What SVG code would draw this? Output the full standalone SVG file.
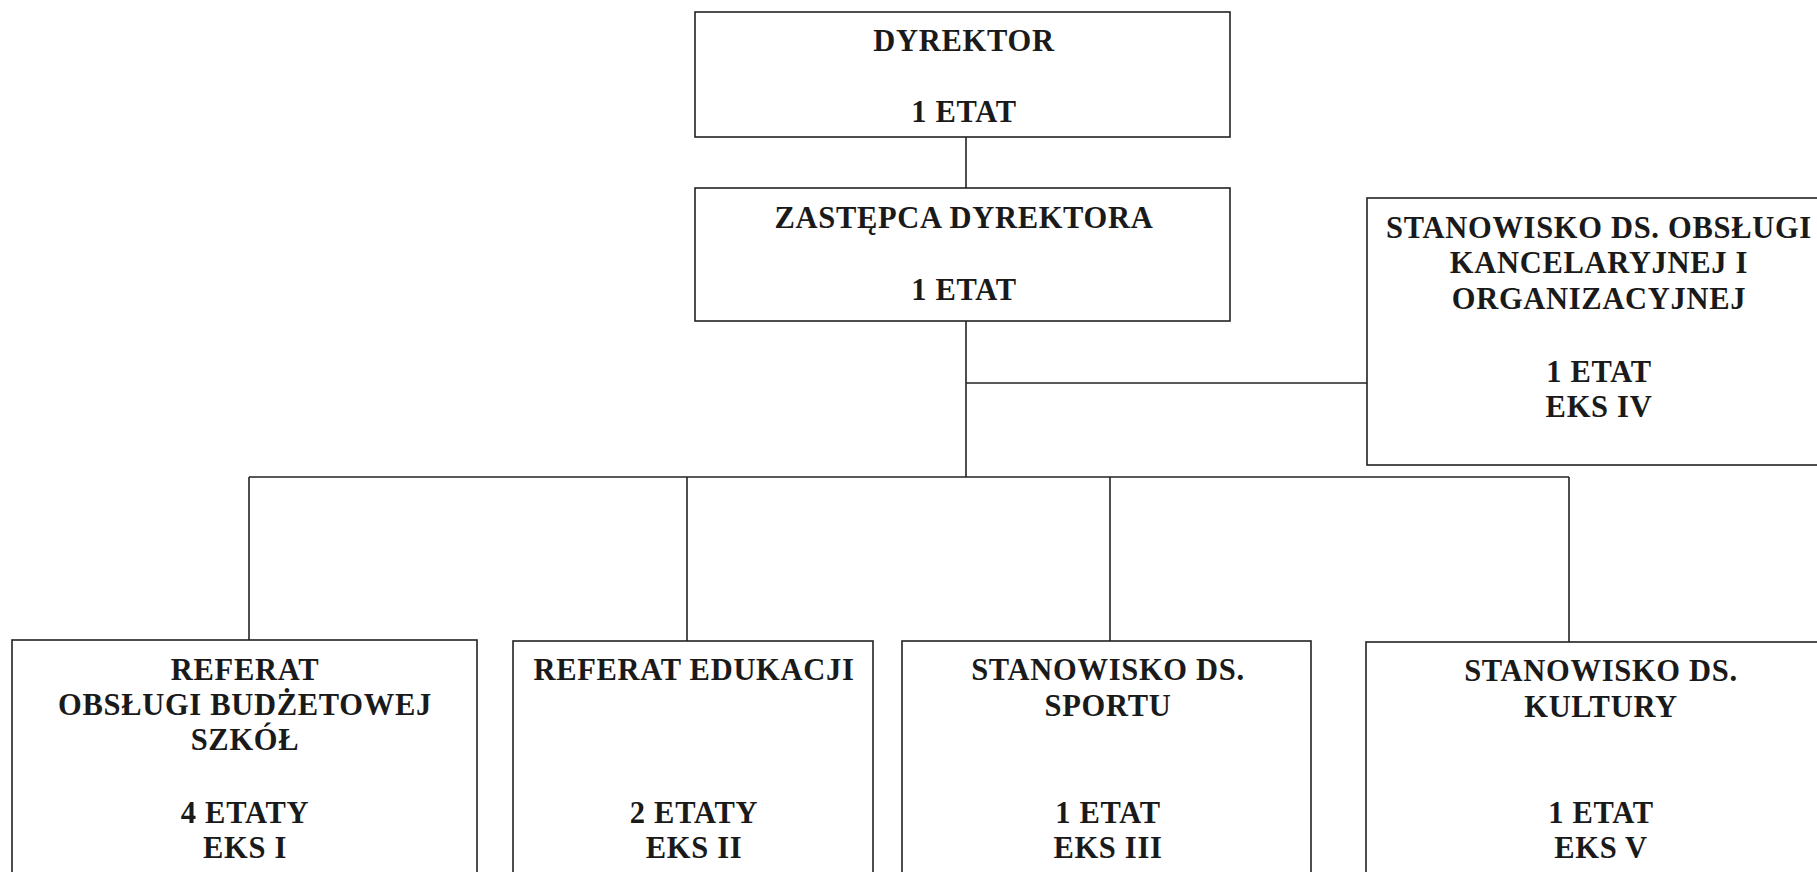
<svg xmlns="http://www.w3.org/2000/svg" width="1817" height="872" viewBox="0 0 1817 872">
<style>
.box{fill:#fff;stroke:#222;stroke-width:1.6}
.ln{fill:none;stroke:#222;stroke-width:1.6}
text{font-family:"Liberation Serif","Times New Roman",serif;font-weight:bold;font-size:30.5px;letter-spacing:0.7px;fill:#1a1a1a;text-anchor:middle}
</style>
<rect width="1817" height="872" fill="#fff"/>
<g id="connectors">
<line class="ln" x1="966" y1="137" x2="966" y2="188"/>
<line class="ln" x1="966" y1="321" x2="966" y2="477"/>
<line class="ln" x1="966" y1="383" x2="1367" y2="383"/>
<line class="ln" x1="249" y1="477" x2="1569" y2="477"/>
<line class="ln" x1="249" y1="477" x2="249" y2="640"/>
<line class="ln" x1="687" y1="477" x2="687" y2="641"/>
<line class="ln" x1="1110" y1="477" x2="1110" y2="641"/>
<line class="ln" x1="1569" y1="477" x2="1569" y2="642"/>
</g>
<g id="dyrektor">
<rect class="box" x="695" y="12" width="535" height="125"/>
<text x="964" y="51">DYREKTOR</text>
<text x="964" y="122">1 ETAT</text>
</g>
<g id="zastepca">
<rect class="box" x="695" y="188" width="535" height="133"/>
<text x="964" y="228">ZASTĘPCA DYREKTORA</text>
<text x="964" y="300">1 ETAT</text>
</g>
<g id="kancelaria">
<rect class="box" x="1367" y="198" width="470" height="267"/>
<text x="1599" y="238">STANOWISKO DS. OBSŁUGI</text>
<text x="1599" y="273">KANCELARYJNEJ I</text>
<text x="1599" y="309">ORGANIZACYJNEJ</text>
<text x="1599" y="382">1 ETAT</text>
<text x="1599" y="417">EKS IV</text>
</g>
<g id="budzet">
<rect class="box" x="12" y="640" width="465" height="260"/>
<text x="245" y="680">REFERAT</text>
<text x="245" y="715">OBSŁUGI BUDŻETOWEJ</text>
<text x="245" y="750">SZKÓŁ</text>
<text x="245" y="823">4 ETATY</text>
<text x="245" y="858">EKS I</text>
</g>
<g id="edukacja">
<rect class="box" x="513" y="641" width="360" height="260"/>
<text x="694" y="680">REFERAT EDUKACJI</text>
<text x="694" y="823">2 ETATY</text>
<text x="694" y="858">EKS II</text>
</g>
<g id="sport">
<rect class="box" x="902" y="641" width="409" height="260"/>
<text x="1108" y="680">STANOWISKO DS.</text>
<text x="1108" y="716">SPORTU</text>
<text x="1108" y="823">1 ETAT</text>
<text x="1108" y="858">EKS III</text>
</g>
<g id="kultura">
<rect class="box" x="1366" y="642" width="470" height="260"/>
<text x="1601" y="681">STANOWISKO DS.</text>
<text x="1601" y="717">KULTURY</text>
<text x="1601" y="823">1 ETAT</text>
<text x="1601" y="858">EKS V</text>
</g>
</svg>
